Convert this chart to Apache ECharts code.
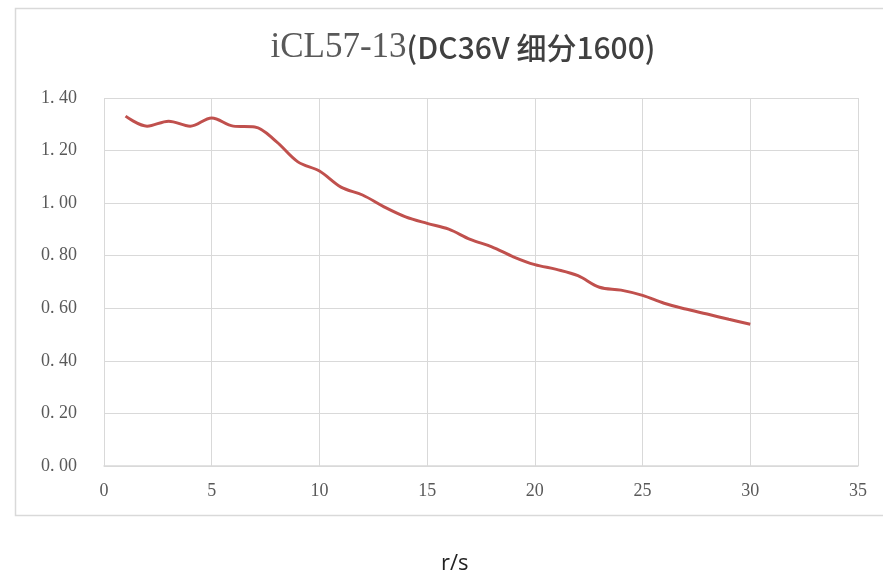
<!DOCTYPE html>
<html><head><meta charset="utf-8">
<script src="https://cdn.jsdelivr.net/npm/echarts@6/dist/echarts.min.js"></script>
<style>html,body{margin:0;padding:0;background:#fff}#c{width:883px;height:577px}</style>
</head><body><div id="c"></div>
<script>
const speeds = [1,2,3,4,5,6,7,8,9,10,11,12,13,14,15,16,17,18,19,20,21,22,23,24,25,26,27,28,29,30];
const torque = [1.331,1.293,1.312,1.293,1.324,1.293,1.29,1.234,1.157,1.122,1.061,1.031,0.986,0.948,0.923,0.901,0.862,0.834,0.796,0.766,0.748,0.724,0.68,0.669,0.649,0.619,0.597,0.578,0.558,0.539];
const titleA = 'iCL57-13';
const titleB = '(DC36V 细分1600)';
const xName = 'r/s';

const chart = echarts.init(document.getElementById('c'), null, {renderer:'canvas'});
chart.setOption({
  animation:false,
  backgroundColor:'#fff',
  graphic:[
    {type:'rect', shape:{x:15.5,y:8.5,width:880,height:507}, style:{fill:'none', stroke:'#d9d9d9', lineWidth:1.5}, z:-1},
    {type:'text', left:441, top:553, style:{text:xName, font:'22px "Open Sans", "Noto Sans", sans-serif', fill:'#222'}}
  ],
  title:{
    text:'{a|'+titleA+'}{b|'+titleB+'}',
    left:458, textAlign:'center', top:25,
    textStyle:{rich:{
      a:{fontFamily:'"Liberation Serif", "Noto Serif", serif', fontSize:35, color:'#595959', fontWeight:'normal'},
      b:{fontFamily:'"Noto Sans CJK SC", sans-serif', fontSize:30, color:'#404040', fontWeight:'500'}
    }}
  },
  grid:{left:104, right:25, top:98, bottom:111},
  xAxis:{
    type:'value', min:0, max:35, interval:5,
    axisLine:{show:true, lineStyle:{color:'#d9d9d9', width:1.5}},
    axisTick:{show:false},
    splitLine:{show:true, lineStyle:{color:'#d9d9d9', width:1}},
    axisLabel:{margin:16, color:'#595959', fontSize:18, fontFamily:'"Liberation Serif", serif'}
  },
  yAxis:{
    type:'value', min:0, max:1.4, interval:0.2,
    axisLine:{show:false}, axisTick:{show:false},
    splitLine:{show:true, lineStyle:{color:'#d9d9d9', width:1}},
    axisLabel:{margin:27, color:'#595959', fontSize:18, fontFamily:'"Liberation Serif", serif',
      formatter:v=>v.toFixed(2).replace('.', '. ')}
  },
  series:[{
    type:'line', smooth:0.35, showSymbol:false,
    data:speeds.map((s,i)=>[s,torque[i]]),
    lineStyle:{color:'#C0504D', width:3}
  }]
});
</script></body></html>
